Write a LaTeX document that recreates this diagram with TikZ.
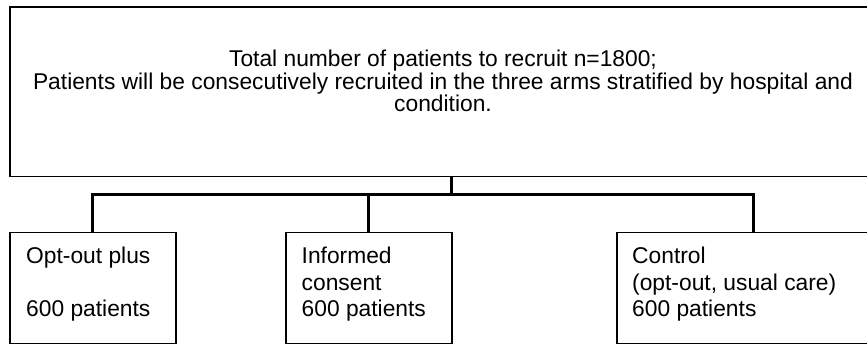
\documentclass[tikz,border=0pt]{standalone}
\usepackage{fontspec}
\setmainfont{Liberation Sans}
\begin{document}
\begin{tikzpicture}[x=1pt,y=-1pt,
  box/.style={draw, line width=1.5pt, inner sep=0pt, anchor=north west},
  link/.style={line width=3pt, line join=miter},
  toptxt/.style={font=\fontsize{22.8}{22.5}\selectfont, align=center, inner sep=0pt},
  armtxt/.style={font=\fontsize{22.8}{26.3}\selectfont, align=left, inner sep=0pt, anchor=north west}]
\useasboundingbox (0,0) rectangle (867,344);
\clip (0,0) rectangle (867,344);
\fill[white] (0,0) rectangle (867,344);
% top box
\node[box, minimum width=868pt, minimum height=169.5pt] (top) at (9,6.5) {};
\node[toptxt] (toptext) at (443,81) {Total number of patients to recruit n=1800;\\Patients will be consecutively recruited in the three arms stratified by hospital and\\condition.};
% arm boxes
\node[box, minimum width=166pt, minimum height=111pt] (b1) at (9,232) {};
\node[box, minimum width=166pt, minimum height=111pt] (b2) at (285,232) {};
\node[box, minimum width=274pt, minimum height=111pt] (b3) at (616,232) {};
\node[armtxt] (t1) at (26,247) {Opt-out plus\\[26.3pt]600 patients};
\node[armtxt] (t2) at (301.5,247) {Informed\\consent\\600 patients};
\node[armtxt] (t3) at (632,247) {Control\\(opt-out, usual care)\\600 patients};
% connectors
\coordinate (split) at (451,195);
\draw[link] (top.south -| split) -- (split);
\draw[link] (b1.north) -- (b1.north |- split) -- (b3.north |- split) -- (b3.north);
\draw[link] (b2.north) -- (b2.north |- split);
\end{tikzpicture}
\end{document}
